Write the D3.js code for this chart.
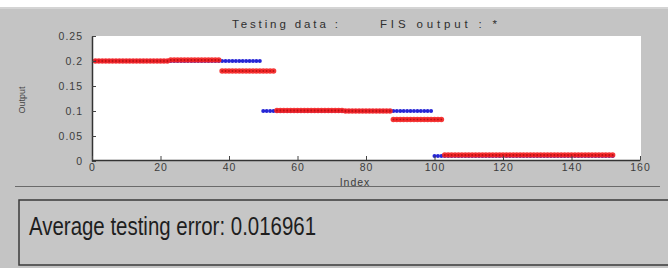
<!DOCTYPE html>
<html><head><meta charset="utf-8">
<script src="https://cdn.jsdelivr.net/npm/d3@7"></script>
<style>html,body{margin:0;padding:0;background:#c4c4c4;}svg{display:block;}</style>
</head><body>
<svg id="c" width="668" height="268"></svg>
<script>
// Testing data (blue), index 1..152
const testingData = [
0.2,0.2,0.2,0.2,0.2,0.2,0.2,0.2,0.2,0.2,0.2,0.2,0.2,0.2,0.2,0.2,0.2,0.2,0.2,0.2,
0.2,0.2,0.2,0.2,0.2,0.2,0.2,0.2,0.2,0.2,0.2,0.2,0.2,0.2,0.2,0.2,0.2,0.2,0.2,0.2,
0.2,0.2,0.2,0.2,0.2,0.2,0.2,0.2,0.2,
0.1,0.1,0.1,0.1,0.1,0.1,0.1,0.1,0.1,0.1,0.1,0.1,0.1,0.1,0.1,0.1,0.1,0.1,0.1,0.1,
0.1,0.1,0.1,0.1,0.1,0.1,0.1,0.1,0.1,0.1,0.1,0.1,0.1,0.1,0.1,0.1,0.1,0.1,0.1,0.1,
0.1,0.1,0.1,0.1,0.1,0.1,0.1,0.1,0.1,0.1,
0.01,0.01,0.01,0.01,0.01,0.01,0.01,0.01,0.01,0.01,0.01,0.01,0.01,0.01,0.01,0.01,0.01,0.01,0.01,0.01,
0.01,0.01,0.01,0.01,0.01,0.01,0.01,0.01,0.01,0.01,0.01,0.01,0.01,0.01,0.01,0.01,0.01,0.01,0.01,0.01,
0.01,0.01,0.01,0.01,0.01,0.01,0.01,0.01,0.01,0.01,0.01,0.01,0.01
];
// FIS output (red), index 1..152
const fisOutput = [
0.2,0.2,0.2,0.2,0.2,0.2,0.2,0.2,0.2,0.2,0.2,0.2,0.2,0.2,0.2,0.2,0.2,0.2,0.2,0.2,0.2,0.2,
0.202,0.202,0.202,0.202,0.202,0.202,0.202,0.202,0.202,0.202,0.202,0.202,0.202,0.202,0.202,
0.18,0.18,0.18,0.18,0.18,0.18,0.18,0.18,0.18,0.18,0.18,0.18,0.18,0.18,0.18,0.18,
0.101,0.101,0.101,0.101,0.101,0.101,0.101,0.101,0.101,0.101,0.101,0.101,0.101,0.101,0.101,0.101,0.101,0.101,0.101,0.101,
0.1,0.1,0.1,0.1,0.1,0.1,0.1,0.1,0.1,0.1,0.1,0.1,0.1,0.1,
0.083,0.083,0.083,0.083,0.083,0.083,0.083,0.083,0.083,0.083,0.083,0.083,0.083,0.083,0.083,
0.012,0.012,0.012,0.012,0.012,0.012,0.012,0.012,0.012,0.012,0.012,0.012,0.012,0.012,0.012,0.012,0.012,0.012,0.012,0.012,
0.012,0.012,0.012,0.012,0.012,0.012,0.012,0.012,0.012,0.012,0.012,0.012,0.012,0.012,0.012,0.012,0.012,0.012,0.012,0.012,
0.012,0.012,0.012,0.012,0.012,0.012,0.012,0.012,0.012,0.012
];
const xTicks = [0,20,40,60,80,100,120,140,160];
const yTicks = [0,0.05,0.1,0.15,0.2,0.25];
const yTickLabels = ["0","0.05","0.1","0.15","0.2","0.25"];
const titleLeft = "Testing data :";
const titleRight = "FIS output : *";
const xLabel = "Index";
const yLabel = "Output";
const errorText = "Average testing error: 0.016961";

const svg = d3.select("#c");
const W = 668, H = 268;
const plot = {left: 92, right: 641, top: 36, bottom: 160};

// top white band
svg.append("rect").attr("x",0).attr("y",0).attr("width",W).attr("height",7).attr("fill","#ffffff");
svg.append("rect").attr("x",0).attr("y",7).attr("width",W).attr("height",2).attr("fill","#d4d4d4");

const x = d3.scaleLinear().domain([0,160]).range([plot.left, plot.right - 1]);
const y = d3.scaleLinear().domain([0,0.25]).range([161, 36]);

svg.append("rect").attr("x",plot.left).attr("y",plot.top)
  .attr("width",plot.right-plot.left).attr("height",plot.bottom-plot.top).attr("fill","#ffffff");

const font = "Liberation Sans, Arial, sans-serif";
// title
svg.append("text").attr("x",232).attr("y",28).attr("font-family",font)
  .attr("font-size",11.5).attr("fill","#2e2e2e").attr("textLength",106).attr("lengthAdjust","spacing").text(titleLeft);
svg.append("text").attr("x",380).attr("y",28).attr("font-family",font)
  .attr("font-size",11.5).attr("fill","#2e2e2e").attr("textLength",117).attr("lengthAdjust","spacing").text(titleRight);

// marks
svg.append("g").selectAll("circle").data(testingData).join("circle")
  .attr("cx",(d,i)=>x(i+1)).attr("cy",d=>y(d)).attr("r",2).attr("fill","#2626d6");
svg.append("g").selectAll("circle").data(fisOutput).join("circle")
  .attr("cx",(d,i)=>x(i+1)).attr("cy",d=>y(d)).attr("r",2.8).attr("fill","#f42222").attr("fill-opacity",0.9);
svg.append("g").selectAll("circle").data(fisOutput).join("circle")
  .attr("cx",(d,i)=>x(i+1)).attr("cy",d=>y(d)).attr("r",0.9).attr("fill","#b81212");

// axes
const ya = svg.append("g").attr("transform",`translate(${plot.left},0)`)
  .call(d3.axisLeft(y).tickValues(yTicks).tickFormat((d,i)=>yTickLabels[i]).tickSizeInner(-4).tickSizeOuter(0).tickPadding(9));
const xa = svg.append("g").attr("transform",`translate(0,${plot.bottom})`)
  .call(d3.axisBottom(x).tickValues(xTicks).tickFormat(d3.format("d")).tickSizeInner(-4).tickSizeOuter(0).tickPadding(4));
[ya,xa].forEach(a=>{
  a.select(".domain").attr("stroke","#333").attr("stroke-width",1.5);
  a.selectAll(".tick line").attr("stroke","#444");
  a.selectAll("text").attr("font-family",font).attr("font-size",10.5).attr("fill","#3c3c3c").attr("letter-spacing","1px");
});
ya.selectAll(".tick text").attr("dy","0.35em");

svg.append("text").attr("x",355).attr("y",186).attr("text-anchor","middle").attr("font-family",font)
  .attr("font-size",10.5).attr("letter-spacing","1px").attr("fill","#3c3c3c").text(xLabel);
svg.append("text").attr("transform","translate(25,100) rotate(-90)").attr("text-anchor","middle")
  .attr("font-family",font).attr("font-size",9).attr("fill","#444").text(yLabel);

// separator line
svg.append("line").attr("x1",15).attr("x2",660).attr("y1",186.5).attr("y2",186.5).attr("stroke","#6a6a6a").attr("stroke-width",1);

// error box
svg.append("rect").attr("x",19).attr("y",200).attr("width",660).attr("height",65)
  .attr("fill","#c6c6c6").attr("stroke","#3a3a3a").attr("stroke-width",1.5);
svg.append("text").attr("x",29).attr("y",235).attr("font-family",font).attr("font-size",25)
  .attr("fill","#1e1e1e").attr("textLength",287).attr("lengthAdjust","spacingAndGlyphs").text(errorText);
</script>
</body></html>
